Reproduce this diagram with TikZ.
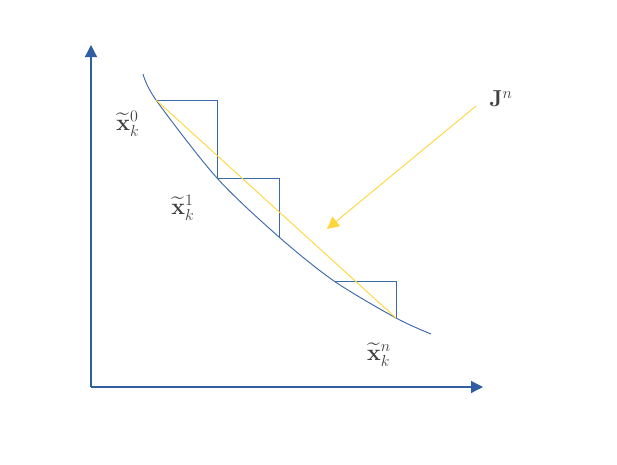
\documentclass[tikz,border=0pt]{standalone}
\usepackage{amsmath, amssymb}
\usepackage{tikz}
\usetikzlibrary{arrows.meta, positioning}

\definecolor{axisblue}{RGB}{47,94,163}
\definecolor{curveblue}{RGB}{60,105,170}
\definecolor{jyellow}{RGB}{255,214,60}
\definecolor{labelgray}{RGB}{64,64,64}

\begin{document}
\begin{tikzpicture}[
			x=0.75pt, y=-0.75pt,
			axis/.style={axisblue, line width=0.9pt, -{Triangle[length=9pt, width=9pt]}},
			curve/.style={curveblue, line width=0.7pt},
			stepline/.style={curveblue, line width=0.7pt},
			jline/.style={jyellow, line width=0.7pt},
			jarrow/.style={jyellow, line width=0.7pt, -{Triangle[length=9pt, width=9pt]}},
			lbl/.style={text=labelgray, font=\LARGE, inner sep=0pt}
			]
			
			\useasboundingbox (0,0) rectangle (617,464);
			
			% axes
			\coordinate (o) at (91,387);
			\coordinate (ytop) at (91,45);
			\coordinate (xend) at (483,387);
			\draw[axis] (o) -- (ytop);
			\draw[axis] (o) -- (xend);
			
			% curve and steps
			\coordinate (p0) at (156,100);
			\coordinate (q0) at (217,100);
			\coordinate (p1) at (217,178);
			\coordinate (q1) at (279,178);
			\coordinate (p2) at (279,237);
			\coordinate (p3) at (334,281);
			\coordinate (q3) at (396,281);
			\coordinate (pn) at (396,318);
			
			\draw[curve] plot[smooth, tension=0.5] coordinates {(143,74) (p0) (p1) (p2) (p3) (pn) (431,334)};
			
			\draw[stepline] (p0) -- (q0) -- (p1);
			\draw[stepline] (p1) -- (q1) -- (p2);
			\draw[stepline] (p3) -- (q3) -- (pn);
			
			\draw[jline] (p0) -- (pn);
			
			% labels
			\node[lbl] (x0) at (128,124) {$\widetilde{\mathbf{x}}_k^0$};
			\node[lbl] (x1) at (183,208) {$\widetilde{\mathbf{x}}_k^1$};
			\node[lbl] (xn) at (379,355) {$\widetilde{\mathbf{x}}_k^n$};
			\node[lbl] (jn) at (501,99) {$\mathbf{J}^n$};
			
			\coordinate (jstart) at (476,106);
			\coordinate (jtip) at (327,229);
			\draw[jarrow] (jstart) -- (jtip);
			
		\end{tikzpicture}
\end{document}
